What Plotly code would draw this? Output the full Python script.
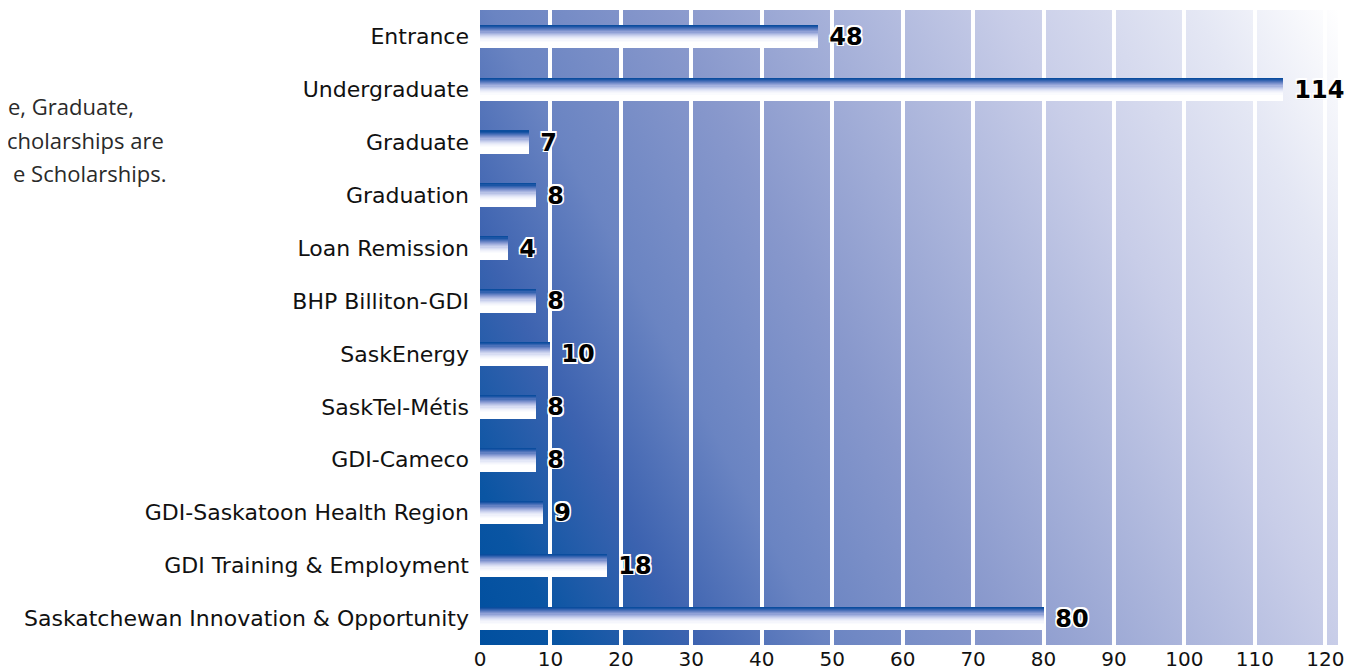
import base64
import plotly.graph_objects as go

categories = ["Entrance", "Undergraduate", "Graduate", "Graduation", "Loan Remission",
              "BHP Billiton-GDI", "SaskEnergy", "SaskTel-Métis", "GDI-Cameco",
              "GDI-Saskatoon Health Region", "GDI Training & Employment",
              "Saskatchewan Innovation & Opportunity"]
values = [48, 114, 7, 8, 4, 8, 10, 8, 8, 9, 18, 80]
x_ticks = [0, 10, 20, 30, 40, 50, 60, 70, 80, 90, 100, 110, 120]
note_lines = ["e, Graduate,", "cholarships are", "e Scholarships."]

OFF = 8  # page body margin
W, H = 1360 - OFF, 671 - OFF
ML, MR, MT, MB = 480 - OFF, 22, 10 - OFF, 26

# vertical gradient for bars, top -> bottom
bar_colors = ["#0b4d9e", "#1b55a5", "#3463b0", "#4c71b9", "#6481c3", "#7b91cd",
              "#91a1d6", "#a5b2df", "#b8c2e6", "#c9d0ed", "#d8ddf3", "#e4e8f7",
              "#eef0fa", "#f5f6fc", "#fafbfe", "#ffffff", "#ffffff", "#ffffff",
              "#ffffff", "#ffffff"]
BAR_W = 0.43
n = len(bar_colors)
band = BAR_W / n

fig = go.Figure()
for i, c in enumerate(bar_colors):
    fig.add_trace(go.Bar(
        x=values, y=categories, orientation="h",
        width=band + 0.006, offset=-BAR_W / 2 + i * band,
        marker=dict(color=c, line=dict(width=0)),
        hoverinfo="skip", showlegend=False,
    ))

fig.add_trace(go.Bar(
    x=values, y=categories, orientation="h", width=BAR_W,
    marker=dict(color="rgba(0,0,0,0)", line=dict(width=0)),
    texttemplate=" %{x}", textposition="outside", cliponaxis=False,
    constraintext="none",
    textfont=dict(family="DejaVu Sans", size=24, color="#000000", weight=700,
                  shadow="-1.5px -1.5px 0 #fff, 1.5px -1.5px 0 #fff, -1.5px 1.5px 0 #fff, 1.5px 1.5px 0 #fff, 0 0 2px #888"),
    showlegend=False, hoverinfo="skip",
))

svg = ('<svg xmlns="http://www.w3.org/2000/svg" width="100" height="100" viewBox="0 0 100 100" preserveAspectRatio="none">'
       '<defs><linearGradient id="g" x1="0" y1="1" x2="1.207" y2="0.53">'
       '<stop offset="0" stop-color="#004f9f"/>'
       '<stop offset="0.07" stop-color="#0a55a3"/>'
       '<stop offset="0.18" stop-color="#3d63b0"/>'
       '<stop offset="0.29" stop-color="#6a84c2"/>'
       '<stop offset="0.435" stop-color="#8898cc"/>'
       '<stop offset="0.72" stop-color="#c8cde8"/>'
       '<stop offset="0.88" stop-color="#e4e7f4"/>'
       '<stop offset="1" stop-color="#ffffff"/>'
       '</linearGradient></defs>'
       '<rect x="0" y="0" width="100" height="100" fill="url(#g)"/></svg>')
uri = "data:image/svg+xml;base64," + base64.b64encode(svg.encode()).decode()
fig.add_layout_image(source=uri, xref="x domain", yref="y domain", x=0, y=1,
                     sizex=1, sizey=1, sizing="stretch", layer="below",
                     xanchor="left", yanchor="top")

pw, ph = W - ML - MR, H - MT - MB
note_x = [136, 166, 168]
note_y = [106, 140, 173]
for t, xx, yy in zip(note_lines, note_x, note_y):
    fig.add_annotation(text=t, xref="paper", yref="paper",
                       x=(xx - OFF - ML) / pw, y=(H - MB - (yy - OFF)) / ph,
                       xanchor="right", yanchor="middle",
                       showarrow=False, font=dict(family="Open Sans", size=22, color="#2a2a2a"))

fig.update_layout(
    width=W, height=H,
    margin=dict(l=ML, r=MR, t=MT, b=MB, autoexpand=False),
    paper_bgcolor="white", plot_bgcolor="rgba(0,0,0,0)",
    barmode="overlay", bargap=0,
    xaxis=dict(range=[0, 121.8], tickvals=x_ticks, showgrid=True, gridcolor="white",
               gridwidth=4, zeroline=False, showline=False, automargin=False,
               tickfont=dict(family="DejaVu Sans", size=20, color="#111111", weight=500),
               ticks="", ticklabelstandoff=0, fixedrange=True),
    yaxis=dict(categoryorder="array", categoryarray=categories, autorange="reversed",
               showgrid=False, zeroline=False, showline=False, ticks="", automargin=False,
               ticklabelstandoff=10,
               tickfont=dict(family="DejaVu Sans", size=22, color="#111111")),
)

fig.write_html("out.html")
